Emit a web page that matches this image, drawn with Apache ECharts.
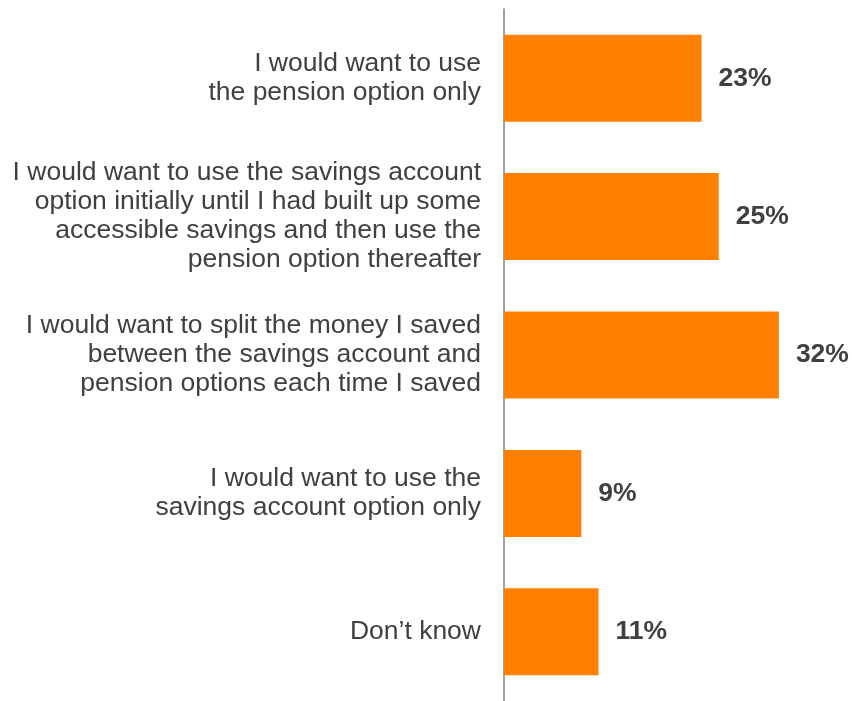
<!DOCTYPE html>
<html>
<head>
<meta charset="utf-8">
<script src="https://cdn.jsdelivr.net/npm/echarts@6/dist/echarts.min.js"></script>
<style>html,body{margin:0;padding:0;background:#fff;}#c{width:852px;height:701px;}</style>
</head>
<body>
<div id="c"></div>
<script>
const categories = [
  "I would want to use\nthe pension option only",
  "I would want to use the savings account\noption initially until I had built up some\naccessible savings and then use the\npension option thereafter",
  "I would want to split the money I saved\nbetween the savings account and\npension options each time I saved",
  "I would want to use the\nsavings account option only",
  "Don\u2019t know"
];
const values = [23, 25, 32, 9, 11];

const chart = echarts.init(document.getElementById('c'), null, {renderer: 'canvas'});
chart.setOption({
  animation: false,
  backgroundColor: '#ffffff',
  grid: {left: 504, top: 9, height: 696, width: 343.6, containLabel: false},
  xAxis: {
    type: 'value', min: 0, max: 40, show: false
  },
  yAxis: {
    type: 'category',
    data: categories,
    inverse: true,
    axisLine: {show: true, lineStyle: {color: '#7f7f7f', width: 1.5}},
    axisTick: {show: false},
    axisLabel: {
      margin: 23,
      color: '#404040',
      fontFamily: 'Liberation Sans, Arial, sans-serif',
      fontSize: 26.5,
      lineHeight: 29,
      align: 'right'
    }
  },
  series: [{
    type: 'bar',
    data: values,
    barWidth: 87,
    itemStyle: {color: '#ff8000'},
    label: {
      show: true,
      position: 'right',
      distance: 17,
      formatter: '{c}%',
      color: '#404040',
      fontFamily: 'Liberation Sans, Arial, sans-serif',
      fontWeight: 'bold',
      fontSize: 26.5
    }
  }]
});
</script>
</body>
</html>
